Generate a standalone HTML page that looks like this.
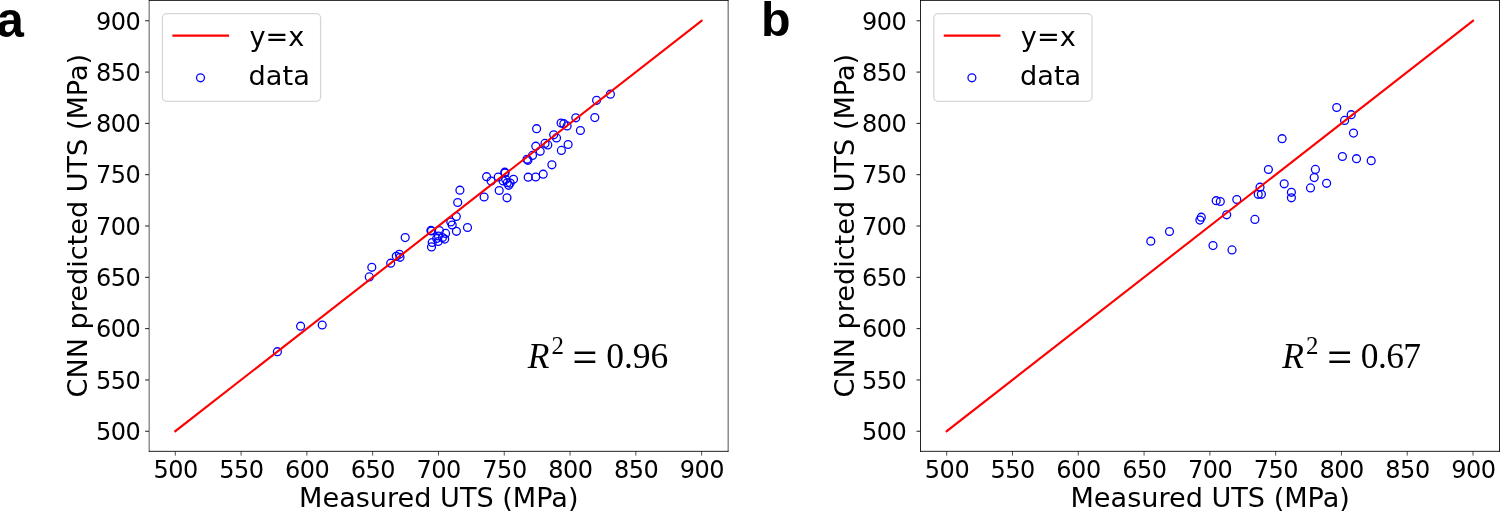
<!DOCTYPE html>
<html lang="en"><head><meta charset="utf-8"><title>CNN predicted UTS vs measured UTS</title>
<style>html,body{margin:0;padding:0;background:#fff;}body{width:1500px;height:516px;overflow:hidden;}svg{display:block;}.t{font-family:"DejaVu Sans","Liberation Sans",sans-serif;fill:#000;}.tk{font-size:24px;letter-spacing:-0.5px;}.lb{font-size:27.1px;}.lg{font-size:27.2px;}.pl{font-family:"Liberation Sans",Arial,Helvetica,sans-serif;font-weight:bold;font-size:48px;fill:#000;}.m{font-family:"Liberation Serif","DejaVu Serif",serif;font-size:35.5px;fill:#000;}.pt circle{fill:none;stroke:#0000ff;stroke-width:1.28;}</style></head><body>
<svg width="1500" height="516" viewBox="0 0 1500 516">
<rect width="1500" height="516" fill="#fff"/>
<g transform="translate(0,0)">
<g class="pt">
<circle cx="277.4" cy="351.7" r="3.95"/>
<circle cx="300.6" cy="326.2" r="3.95"/>
<circle cx="322.2" cy="325.0" r="3.95"/>
<circle cx="369.3" cy="276.9" r="3.95"/>
<circle cx="371.8" cy="267.3" r="3.95"/>
<circle cx="390.7" cy="263.2" r="3.95"/>
<circle cx="396.3" cy="256.3" r="3.95"/>
<circle cx="399.4" cy="254.3" r="3.95"/>
<circle cx="400.0" cy="257.3" r="3.95"/>
<circle cx="405.2" cy="237.6" r="3.95"/>
<circle cx="430.9" cy="230.4" r="3.95"/>
<circle cx="431.5" cy="231.0" r="3.95"/>
<circle cx="431.5" cy="246.9" r="3.95"/>
<circle cx="432.2" cy="242.5" r="3.95"/>
<circle cx="438.2" cy="241.5" r="3.95"/>
<circle cx="436.7" cy="238.5" r="3.95"/>
<circle cx="438.5" cy="236.0" r="3.95"/>
<circle cx="439.4" cy="230.5" r="3.95"/>
<circle cx="442.5" cy="237.5" r="3.95"/>
<circle cx="444.7" cy="239.1" r="3.95"/>
<circle cx="445.6" cy="233.4" r="3.95"/>
<circle cx="450.8" cy="222.0" r="3.95"/>
<circle cx="452.2" cy="225.0" r="3.95"/>
<circle cx="456.4" cy="231.3" r="3.95"/>
<circle cx="456.3" cy="216.5" r="3.95"/>
<circle cx="457.7" cy="202.5" r="3.95"/>
<circle cx="467.5" cy="227.5" r="3.95"/>
<circle cx="459.9" cy="190.2" r="3.95"/>
<circle cx="486.6" cy="176.7" r="3.95"/>
<circle cx="491.1" cy="181.0" r="3.95"/>
<circle cx="498.2" cy="177.0" r="3.95"/>
<circle cx="484.1" cy="197.0" r="3.95"/>
<circle cx="499.2" cy="190.5" r="3.95"/>
<circle cx="507.0" cy="197.8" r="3.95"/>
<circle cx="504.8" cy="172.2" r="3.95"/>
<circle cx="505.0" cy="173.0" r="3.95"/>
<circle cx="503.1" cy="180.9" r="3.95"/>
<circle cx="505.7" cy="179.6" r="3.95"/>
<circle cx="508.7" cy="185.3" r="3.95"/>
<circle cx="510.2" cy="183.1" r="3.95"/>
<circle cx="507.3" cy="182.7" r="3.95"/>
<circle cx="513.5" cy="179.3" r="3.95"/>
<circle cx="528.2" cy="177.2" r="3.95"/>
<circle cx="535.7" cy="177.0" r="3.95"/>
<circle cx="543.2" cy="174.2" r="3.95"/>
<circle cx="527.0" cy="159.3" r="3.95"/>
<circle cx="527.9" cy="160.3" r="3.95"/>
<circle cx="610.4" cy="94.2" r="3.95"/>
<circle cx="596.6" cy="100.3" r="3.95"/>
<circle cx="594.8" cy="117.6" r="3.95"/>
<circle cx="575.8" cy="117.8" r="3.95"/>
<circle cx="580.4" cy="130.5" r="3.95"/>
<circle cx="561.1" cy="123.1" r="3.95"/>
<circle cx="563.8" cy="123.7" r="3.95"/>
<circle cx="567.1" cy="125.9" r="3.95"/>
<circle cx="536.6" cy="128.7" r="3.95"/>
<circle cx="553.7" cy="134.8" r="3.95"/>
<circle cx="556.5" cy="137.9" r="3.95"/>
<circle cx="568.1" cy="144.5" r="3.95"/>
<circle cx="561.4" cy="150.4" r="3.95"/>
<circle cx="545.0" cy="143.4" r="3.95"/>
<circle cx="547.8" cy="144.9" r="3.95"/>
<circle cx="535.8" cy="146.2" r="3.95"/>
<circle cx="540.2" cy="151.3" r="3.95"/>
<circle cx="532.5" cy="155.4" r="3.95"/>
<circle cx="551.9" cy="164.8" r="3.95"/>
</g>
<line x1="175.3" y1="431.2" x2="701.6" y2="20.8" stroke="#ff0000" stroke-width="2.1" stroke-linecap="square"/>
<g stroke="#000" fill="none">
<line x1="148.84" y1="0.43" x2="728.50" y2="0.43" stroke-width="0.87"/>
<line x1="148.84" y1="451.34" x2="728.50" y2="451.34" stroke-width="0.88"/>
<line x1="149.17" y1="0" x2="149.17" y2="451.78" stroke-width="0.66"/>
<line x1="728.15" y1="0" x2="728.15" y2="451.78" stroke-width="0.7"/>
<line x1="175.30" y1="451.5" x2="175.30" y2="455.6" stroke-width="0.7"/>
<line x1="149" y1="431.25" x2="145.1" y2="431.25" stroke-width="0.88"/>
<line x1="241.09" y1="451.5" x2="241.09" y2="455.6" stroke-width="0.7"/>
<line x1="149" y1="379.94" x2="145.1" y2="379.94" stroke-width="0.88"/>
<line x1="306.88" y1="451.5" x2="306.88" y2="455.6" stroke-width="0.7"/>
<line x1="149" y1="328.63" x2="145.1" y2="328.63" stroke-width="0.88"/>
<line x1="372.67" y1="451.5" x2="372.67" y2="455.6" stroke-width="0.7"/>
<line x1="149" y1="277.32" x2="145.1" y2="277.32" stroke-width="0.88"/>
<line x1="438.46" y1="451.5" x2="438.46" y2="455.6" stroke-width="0.7"/>
<line x1="149" y1="226.01" x2="145.1" y2="226.01" stroke-width="0.88"/>
<line x1="504.25" y1="451.5" x2="504.25" y2="455.6" stroke-width="0.7"/>
<line x1="149" y1="174.70" x2="145.1" y2="174.70" stroke-width="0.88"/>
<line x1="570.04" y1="451.5" x2="570.04" y2="455.6" stroke-width="0.7"/>
<line x1="149" y1="123.39" x2="145.1" y2="123.39" stroke-width="0.88"/>
<line x1="635.83" y1="451.5" x2="635.83" y2="455.6" stroke-width="0.7"/>
<line x1="149" y1="72.08" x2="145.1" y2="72.08" stroke-width="0.88"/>
<line x1="701.62" y1="451.5" x2="701.62" y2="455.6" stroke-width="0.7"/>
<line x1="149" y1="20.77" x2="145.1" y2="20.77" stroke-width="0.88"/>
</g>
<text class="t tk" x="175.6" y="478.35" text-anchor="middle">500</text>
<text class="t tk" x="140.3" y="440.0" text-anchor="end">500</text>
<text class="t tk" x="241.3" y="478.35" text-anchor="middle">550</text>
<text class="t tk" x="140.3" y="388.7" text-anchor="end">550</text>
<text class="t tk" x="307.1" y="478.35" text-anchor="middle">600</text>
<text class="t tk" x="140.3" y="337.4" text-anchor="end">600</text>
<text class="t tk" x="372.9" y="478.35" text-anchor="middle">650</text>
<text class="t tk" x="140.3" y="286.1" text-anchor="end">650</text>
<text class="t tk" x="438.7" y="478.35" text-anchor="middle">700</text>
<text class="t tk" x="140.3" y="234.8" text-anchor="end">700</text>
<text class="t tk" x="504.5" y="478.35" text-anchor="middle">750</text>
<text class="t tk" x="140.3" y="183.4" text-anchor="end">750</text>
<text class="t tk" x="570.3" y="478.35" text-anchor="middle">800</text>
<text class="t tk" x="140.3" y="132.1" text-anchor="end">800</text>
<text class="t tk" x="636.1" y="478.35" text-anchor="middle">850</text>
<text class="t tk" x="140.3" y="80.8" text-anchor="end">850</text>
<text class="t tk" x="701.9" y="478.35" text-anchor="middle">900</text>
<text class="t tk" x="140.3" y="29.5" text-anchor="end">900</text>
<text class="t lb" x="438.8" y="507.4" text-anchor="middle">Measured UTS (MPa)</text>
<text class="t lb" transform="translate(87.3,225.7) rotate(-90)" text-anchor="middle">CNN predicted UTS (MPa)</text>
<rect x="162.4" y="13.6" width="158.2" height="87.7" rx="4.4" ry="4.4" fill="#fff" fill-opacity="0.8" stroke="#ccc" stroke-opacity="0.8" stroke-width="1.28"/>
<line x1="173.4" y1="35.6" x2="228" y2="35.6" stroke="#ff0000" stroke-width="2.1" stroke-linecap="square"/>
<circle cx="200.5" cy="77.8" r="3.95" fill="none" stroke="#0000ff" stroke-width="1.28"/>
<text class="t lg" x="249.4" y="45.6">y=x</text>
<text class="t lg" x="248.6" y="84.8">data</text>
<g transform="translate(0,0)">
<text class="m" x="527.7" y="367.8" font-style="italic">R</text>
<text class="m" x="551.4" y="354.4" style="font-size:24.9px">2</text>
<text class="pl" transform="translate(572.6,369.1) scale(1.2,1)" style="font-weight:normal;font-size:35.5px">=</text>
<text class="m" x="606.2" y="367.8" style="letter-spacing:0px">0.96</text>
</g>
</g>
<text class="pl" x="-3.4" y="36.6" style="font-size:49.2px">a</text>
<g transform="translate(771.4,0)">
<g class="pt">
<circle cx="379.4" cy="241.2" r="3.95"/>
<circle cx="398.1" cy="231.5" r="3.95"/>
<circle cx="428.5" cy="220.1" r="3.95"/>
<circle cx="429.9" cy="217.2" r="3.95"/>
<circle cx="444.8" cy="200.7" r="3.95"/>
<circle cx="448.9" cy="201.5" r="3.95"/>
<circle cx="465.4" cy="199.5" r="3.95"/>
<circle cx="455.3" cy="214.8" r="3.95"/>
<circle cx="441.6" cy="245.6" r="3.95"/>
<circle cx="460.6" cy="249.9" r="3.95"/>
<circle cx="483.5" cy="219.4" r="3.95"/>
<circle cx="488.6" cy="187.2" r="3.95"/>
<circle cx="486.8" cy="194.3" r="3.95"/>
<circle cx="490.0" cy="194.3" r="3.95"/>
<circle cx="497.0" cy="169.5" r="3.95"/>
<circle cx="512.8" cy="183.8" r="3.95"/>
<circle cx="520.0" cy="192.3" r="3.95"/>
<circle cx="520.0" cy="197.8" r="3.95"/>
<circle cx="510.7" cy="138.7" r="3.95"/>
<circle cx="544.0" cy="169.4" r="3.95"/>
<circle cx="542.8" cy="177.6" r="3.95"/>
<circle cx="555.2" cy="183.3" r="3.95"/>
<circle cx="539.1" cy="187.9" r="3.95"/>
<circle cx="565.3" cy="107.5" r="3.95"/>
<circle cx="579.8" cy="114.7" r="3.95"/>
<circle cx="573.2" cy="120.4" r="3.95"/>
<circle cx="582.1" cy="133.1" r="3.95"/>
<circle cx="571.0" cy="156.5" r="3.95"/>
<circle cx="585.1" cy="158.7" r="3.95"/>
<circle cx="599.8" cy="160.7" r="3.95"/>
</g>
<line x1="175.3" y1="431.2" x2="701.6" y2="20.8" stroke="#ff0000" stroke-width="2.1" stroke-linecap="square"/>
<g stroke="#000" fill="none">
<line x1="148.67" y1="0.43" x2="728.53" y2="0.43" stroke-width="0.87"/>
<line x1="148.67" y1="451.34" x2="728.53" y2="451.34" stroke-width="0.88"/>
<line x1="149.10" y1="0" x2="149.10" y2="451.78" stroke-width="0.86"/>
<line x1="728.10" y1="0" x2="728.10" y2="451.78" stroke-width="0.86"/>
<line x1="175.30" y1="451.5" x2="175.30" y2="455.6" stroke-width="0.7"/>
<line x1="149" y1="431.25" x2="145.1" y2="431.25" stroke-width="0.88"/>
<line x1="241.09" y1="451.5" x2="241.09" y2="455.6" stroke-width="0.7"/>
<line x1="149" y1="379.94" x2="145.1" y2="379.94" stroke-width="0.88"/>
<line x1="306.88" y1="451.5" x2="306.88" y2="455.6" stroke-width="0.7"/>
<line x1="149" y1="328.63" x2="145.1" y2="328.63" stroke-width="0.88"/>
<line x1="372.67" y1="451.5" x2="372.67" y2="455.6" stroke-width="0.7"/>
<line x1="149" y1="277.32" x2="145.1" y2="277.32" stroke-width="0.88"/>
<line x1="438.46" y1="451.5" x2="438.46" y2="455.6" stroke-width="0.7"/>
<line x1="149" y1="226.01" x2="145.1" y2="226.01" stroke-width="0.88"/>
<line x1="504.25" y1="451.5" x2="504.25" y2="455.6" stroke-width="0.7"/>
<line x1="149" y1="174.70" x2="145.1" y2="174.70" stroke-width="0.88"/>
<line x1="570.04" y1="451.5" x2="570.04" y2="455.6" stroke-width="0.7"/>
<line x1="149" y1="123.39" x2="145.1" y2="123.39" stroke-width="0.88"/>
<line x1="635.83" y1="451.5" x2="635.83" y2="455.6" stroke-width="0.7"/>
<line x1="149" y1="72.08" x2="145.1" y2="72.08" stroke-width="0.88"/>
<line x1="701.62" y1="451.5" x2="701.62" y2="455.6" stroke-width="0.7"/>
<line x1="149" y1="20.77" x2="145.1" y2="20.77" stroke-width="0.88"/>
</g>
<text class="t tk" x="175.6" y="478.35" text-anchor="middle">500</text>
<text class="t tk" x="134.9" y="440.0" text-anchor="end">500</text>
<text class="t tk" x="241.3" y="478.35" text-anchor="middle">550</text>
<text class="t tk" x="134.9" y="388.7" text-anchor="end">550</text>
<text class="t tk" x="307.1" y="478.35" text-anchor="middle">600</text>
<text class="t tk" x="134.9" y="337.4" text-anchor="end">600</text>
<text class="t tk" x="372.9" y="478.35" text-anchor="middle">650</text>
<text class="t tk" x="134.9" y="286.1" text-anchor="end">650</text>
<text class="t tk" x="438.7" y="478.35" text-anchor="middle">700</text>
<text class="t tk" x="134.9" y="234.8" text-anchor="end">700</text>
<text class="t tk" x="504.5" y="478.35" text-anchor="middle">750</text>
<text class="t tk" x="134.9" y="183.4" text-anchor="end">750</text>
<text class="t tk" x="570.3" y="478.35" text-anchor="middle">800</text>
<text class="t tk" x="134.9" y="132.1" text-anchor="end">800</text>
<text class="t tk" x="636.1" y="478.35" text-anchor="middle">850</text>
<text class="t tk" x="134.9" y="80.8" text-anchor="end">850</text>
<text class="t tk" x="701.9" y="478.35" text-anchor="middle">900</text>
<text class="t tk" x="134.9" y="29.5" text-anchor="end">900</text>
<text class="t lb" x="438.8" y="507.4" text-anchor="middle">Measured UTS (MPa)</text>
<text class="t lb" transform="translate(82.4,225.7) rotate(-90)" text-anchor="middle">CNN predicted UTS (MPa)</text>
<rect x="162.4" y="13.6" width="158.2" height="87.7" rx="4.4" ry="4.4" fill="#fff" fill-opacity="0.8" stroke="#ccc" stroke-opacity="0.8" stroke-width="1.28"/>
<line x1="173.4" y1="35.6" x2="228" y2="35.6" stroke="#ff0000" stroke-width="2.1" stroke-linecap="square"/>
<circle cx="200.5" cy="77.8" r="3.95" fill="none" stroke="#0000ff" stroke-width="1.28"/>
<text class="t lg" x="249.4" y="45.6">y=x</text>
<text class="t lg" x="248.6" y="84.8">data</text>
<g transform="translate(-16.8,0)">
<text class="m" x="527.7" y="367.8" font-style="italic">R</text>
<text class="m" x="551.4" y="354.4" style="font-size:24.9px">2</text>
<text class="pl" transform="translate(572.6,369.1) scale(1.2,1)" style="font-weight:normal;font-size:35.5px">=</text>
<text class="m" x="606.2" y="367.8" style="letter-spacing:-0.6px">0.67</text>
</g>
</g>
<text class="pl" x="761.1" y="36.2" style="font-size:48.4px">b</text>
</svg></body></html>
